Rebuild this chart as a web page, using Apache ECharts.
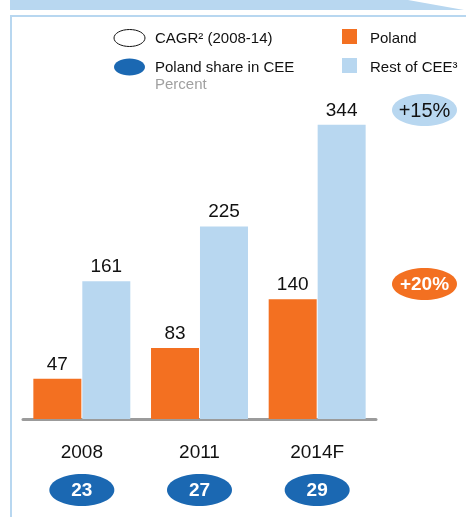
<!DOCTYPE html>
<html>
<head>
<meta charset="utf-8">
<script src="https://cdn.jsdelivr.net/npm/echarts@6/dist/echarts.min.js"></script>
<style>
  html, body { margin: 0; padding: 0; background: #fff; }
  #chart { width: 466px; height: 517px; }
</style>
</head>
<body>
<div id="chart"></div>
<script>
// data
const years = ['2008', '2011', '2014F'];
const polandValues = [47, 83, 140];
const restOfCeeValues = [161, 225, 344];
const polandShare = [23, 27, 29];
const cagrLabels = ['+15%', '+20%'];

const FONT = 'Liberation Sans, Arial, sans-serif';
const ORANGE = '#f37021';
const LIGHT_BLUE = '#b8d7f0';
const DARK_BLUE = '#1b68b2';

const chart = echarts.init(document.getElementById('chart'));

const labelStyle = {
    show: true,
    position: 'top',
    distance: 5,
    color: '#111',
    fontSize: 19,
    fontFamily: FONT
};

const option = {
    animation: false,
    grid: { left: 23, top: 100, width: 353, height: 319 },
    xAxis: {
        type: 'category',
        data: years,
        axisLine: { lineStyle: { color: '#9b9b9b', width: 3 } },
        axisTick: { show: false },
        axisLabel: { color: '#111', fontSize: 19, fontFamily: FONT, margin: 24 }
    },
    yAxis: {
        type: 'value',
        min: 0,
        max: 373,
        show: false,
        splitLine: { show: false }
    },
    series: [
        {
            name: 'Poland',
            type: 'bar',
            data: polandValues,
            barWidth: 48,
            barGap: '2%',
            itemStyle: { color: ORANGE },
            label: labelStyle
        },
        {
            name: 'Rest of CEE³',
            type: 'bar',
            data: restOfCeeValues,
            barWidth: 48,
            itemStyle: { color: LIGHT_BLUE },
            label: labelStyle
        }
    ]
};

chart.setOption(option);

// decoration, legend and ellipses
const txt = (x, y, text, extra) => ({
    type: 'text', x, y,
    style: Object.assign({ text, fill: '#111', fontSize: 15, fontFamily: FONT, textVerticalAlign: 'middle' }, extra || {})
});

const ellipseWithText = (cx, cy, fill, text, textColor, bold) => ({
    type: 'group',
    children: [
        { type: 'ellipse', shape: { cx, cy, rx: 32.5, ry: 16 }, style: { fill } },
        {
            type: 'text', x: cx, y: cy + 1,
            style: {
                text, fill: textColor, fontSize: bold ? 19 : 20, fontWeight: bold ? 'bold' : 'normal',
                fontFamily: FONT, textAlign: 'center', textVerticalAlign: 'middle'
            }
        }
    ]
});

const elements = [
    // top banner
    { type: 'polygon', shape: { points: [[10, 0], [408, 0], [464, 10], [10, 10]] }, style: { fill: LIGHT_BLUE } },
    // box border
    { type: 'line', shape: { x1: 10, y1: 16, x2: 466, y2: 16 }, style: { stroke: LIGHT_BLUE, lineWidth: 2 } },
    { type: 'line', shape: { x1: 11, y1: 16, x2: 11, y2: 517 }, style: { stroke: LIGHT_BLUE, lineWidth: 2 } },
    // legend
    { type: 'ellipse', shape: { cx: 129.5, cy: 38, rx: 15.5, ry: 8.5 }, style: { fill: '#fff', stroke: '#111', lineWidth: 1 } },
    txt(155, 39, 'CAGR² (2008-14)'),
    { type: 'ellipse', shape: { cx: 129.5, cy: 67, rx: 15.5, ry: 8.5 }, style: { fill: DARK_BLUE } },
    txt(155, 68, 'Poland share in CEE'),
    txt(155, 85, 'Percent', { fill: '#a0a0a0' }),
    { type: 'rect', shape: { x: 342, y: 29, width: 15, height: 15 }, style: { fill: ORANGE } },
    txt(370, 39, 'Poland'),
    { type: 'rect', shape: { x: 342, y: 58, width: 15, height: 15 }, style: { fill: LIGHT_BLUE } },
    txt(370, 68, 'Rest of CEE³'),
    // CAGR ellipses
    ellipseWithText(424.5, 110, LIGHT_BLUE, cagrLabels[0], '#111', false),
    ellipseWithText(424.5, 284, ORANGE, cagrLabels[1], '#fff', true)
];

// Poland share ellipses under each year
years.forEach((y, i) => {
    const px = chart.convertToPixel({ xAxisIndex: 0 }, y);
    elements.push(ellipseWithText(px, 490, DARK_BLUE, String(polandShare[i]), '#fff', true));
});

chart.setOption({ graphic: { elements } });
</script>
</body>
</html>
